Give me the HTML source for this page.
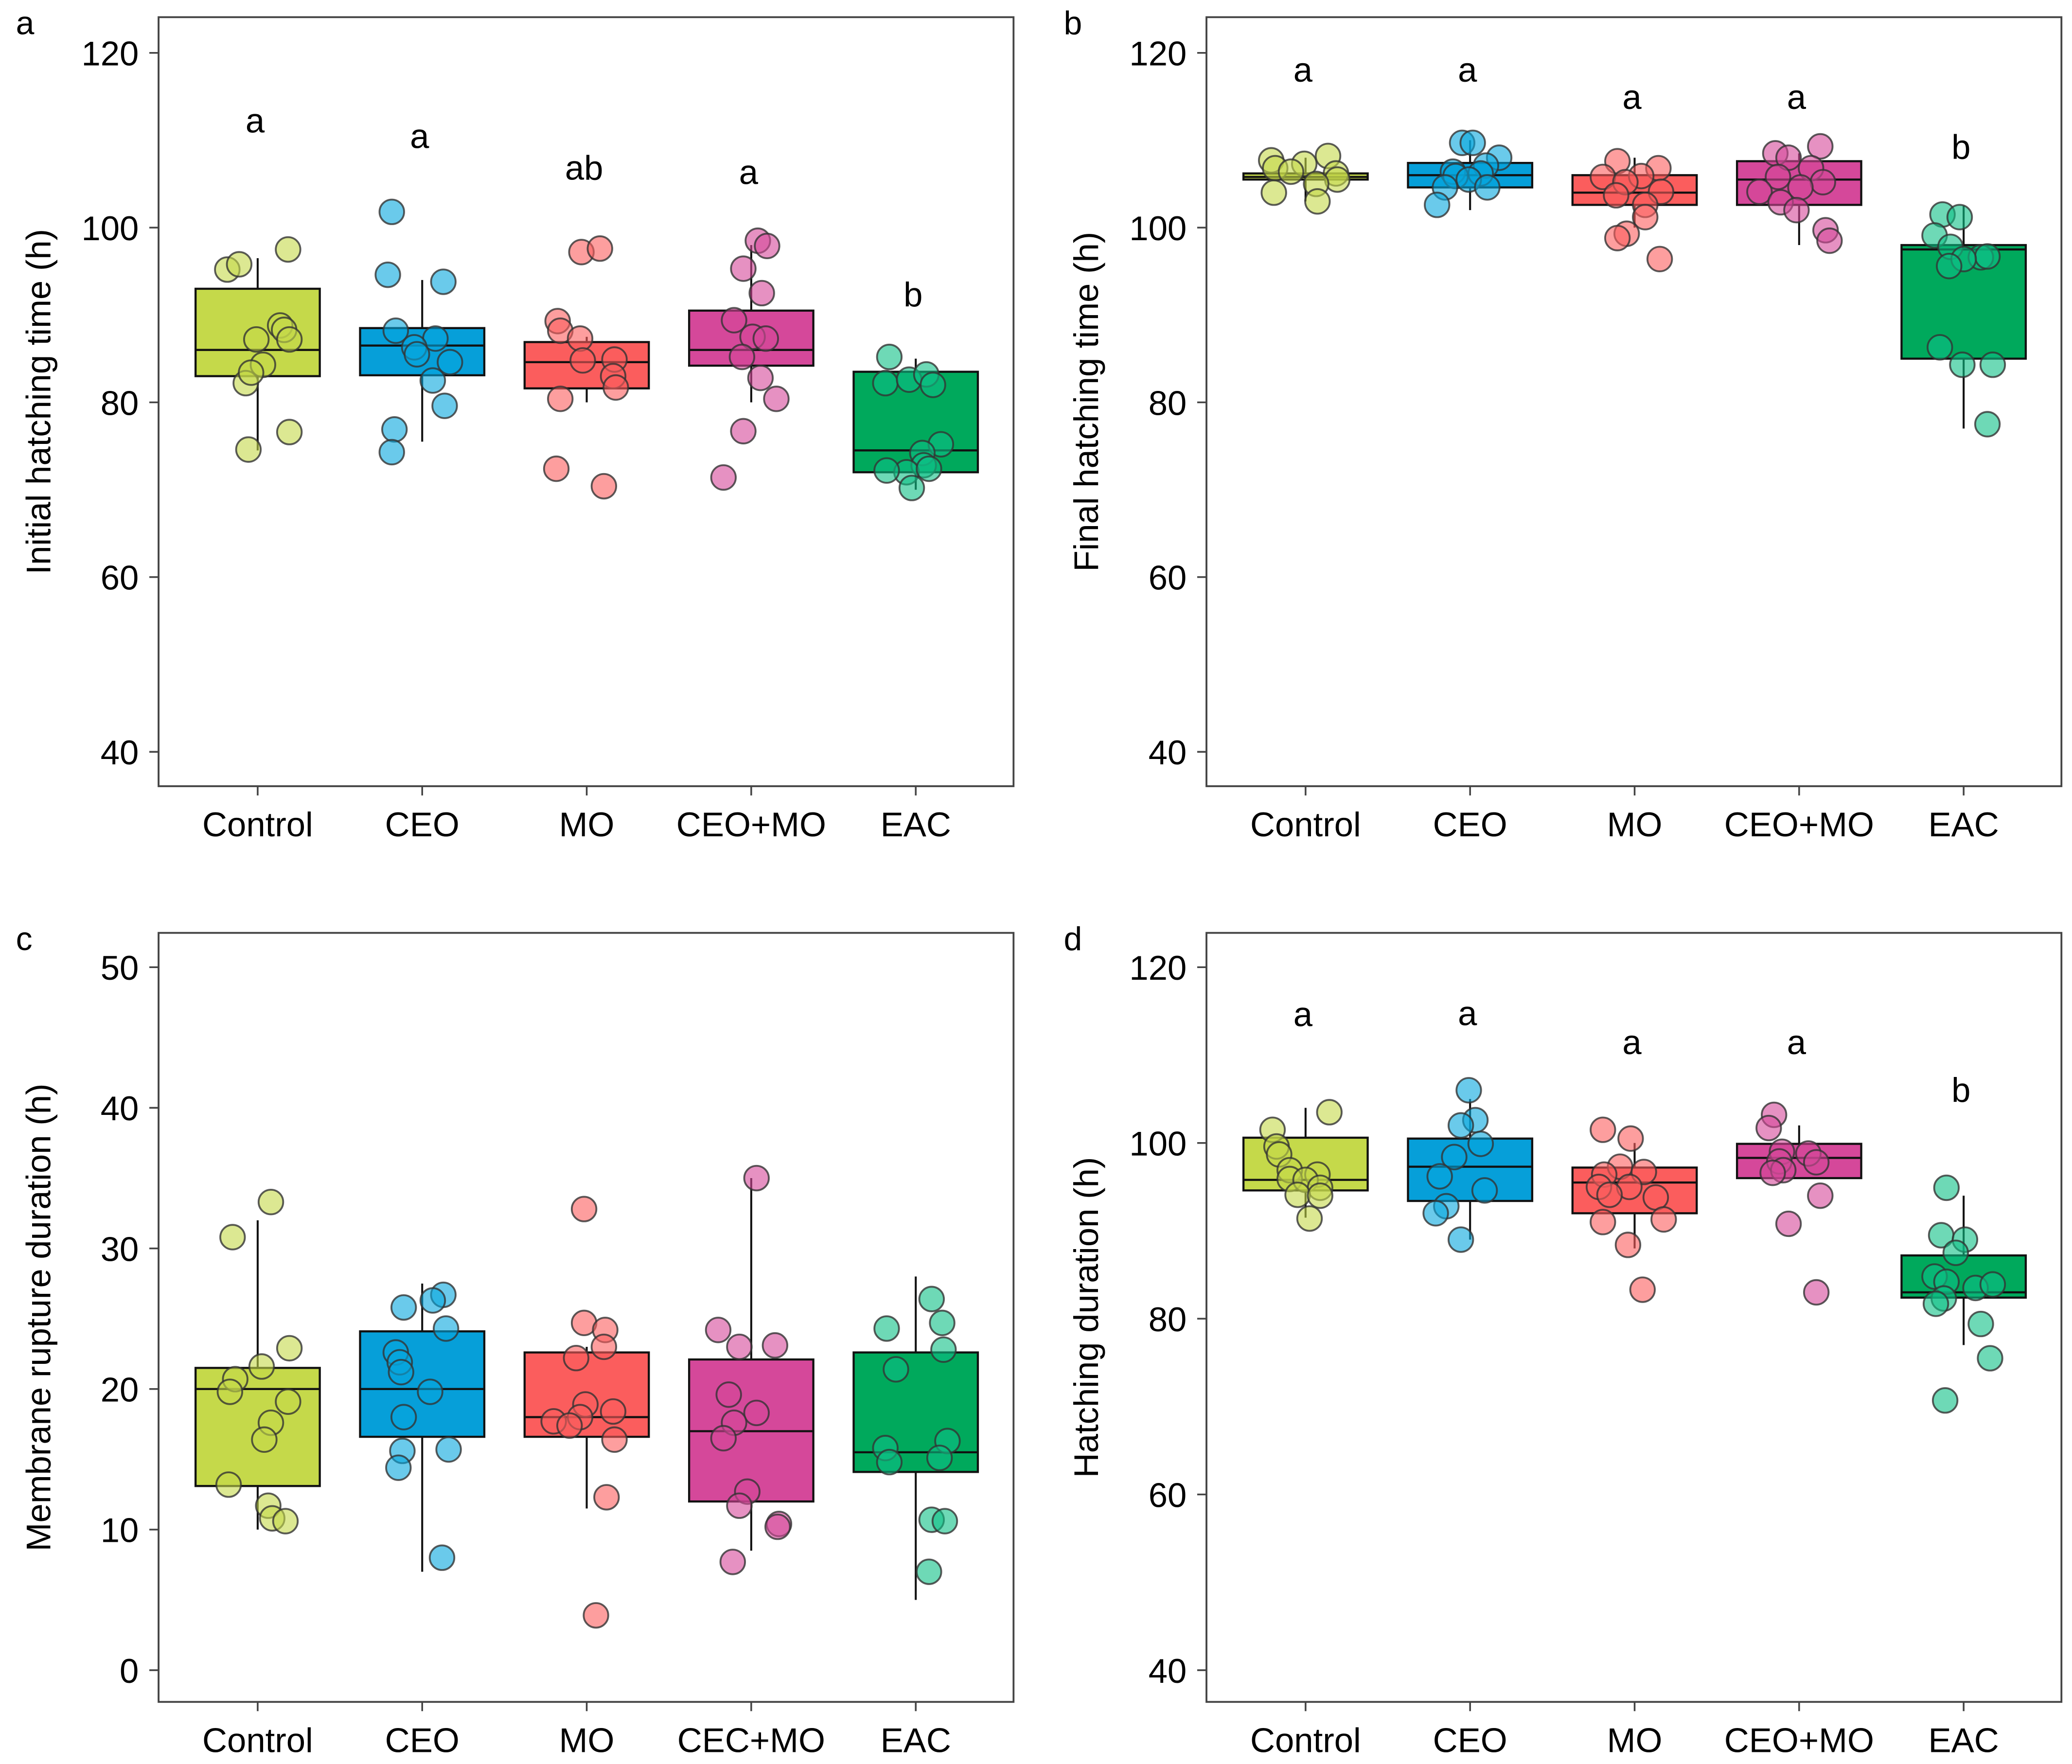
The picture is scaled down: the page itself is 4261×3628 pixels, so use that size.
<!DOCTYPE html>
<html><head><meta charset="utf-8">
<style>
html,body{margin:0;padding:0;background:#fff;}
svg{display:block;}
text{font-family:"Liberation Sans",Arial,sans-serif;fill:#000;}
</style></head>
<body>
<svg id="fig" xmlns="http://www.w3.org/2000/svg" width="4261" height="3628" viewBox="0 0 1568 1335" preserveAspectRatio="none"></svg>
<script>
// ---------- DATA ----------
const categoriesAB = ["Control","CEO","MO","CEO+MO","EAC"];
const categoriesC = ["Control","CEO","MO","CEC+MO","EAC"];
const colors = ["#c5d94a","#069fd9","#fb5d5d","#d5489a","#00a95c"];
const pointColors = ["#c5d94a","#06a6dd","#fb5d5d","#d5489a","#0dbf86"];
const ticksAB = [40,60,80,100,120];
const ticksC = [0,10,20,30,40,50];

// panel a: initial hatching time
const pointsA = [
 [95.2,95.8,97.5,88.8,88.3,87.2,87.2,84.3,82.2,83.4,76.6,74.6],
 [101.8,94.6,93.8,88.2,87.3,86.3,85.5,84.6,82.5,79.6,76.9,74.3],
 [97.2,97.6,89.3,88.2,87.3,84.8,84.9,83,81.7,80.4,72.4,70.4],
 [98.5,97.9,95.3,92.5,89.4,87.5,87.3,85.2,82.8,80.4,76.7,71.4],
 [85.2,82.2,82.6,83.2,82,75.2,74.2,72.8,72,72.4,70.2,72.2]];
const jitterA = [
 [-23,-14,23,17,20,24,-1,4,-9,-5,24,-7],
 [-23,-26,16,-20,10,-6,-4,21,8,17,-21,-23],
 [-4,10,-22,-20,-5,-3,21,20,22,-20,-23,13],
 [5,12,-6,8,-13,1,11,-7,7,19,-6,-21],
 [-20,-23,-5,8,13,19,5,6,-7,10,-3,-22]];
const boxA = [[74.5,83,86,93,96.5],[75.5,83.1,86.5,88.5,94],[80,81.6,84.6,86.9,87.5],[80,84.2,86,90.5,98],[70,72,74.5,83.5,85]];
const lettersA = ["a","a","ab","a","b"];
const letterPosA = [112.1,110.3,106.7,106.2,92.2];

// panel b: final hatching time
const pointsB = [
 [107.7,106.8,107.3,108.2,106.2,106.4,105.5,104,105,103],
 [109.7,109.7,108,107.1,106.4,106.2,105.9,105.5,104.6,104.6,102.6],
 [107.6,106.8,105.9,105.8,105.2,104.1,103.7,102.6,101.2,99.3,98.8,96.4],
 [109.3,108.5,108,106.8,105.8,105.2,104.6,104.1,102.9,102,99.7,98.5],
 [101.5,101.2,99.1,97.8,96.6,96.7,96.4,95.6,86.3,84.3,84.3,77.5]];
const jitterB = [
 [-26,-23,-1,17,23,-11,24,-24,8,9],
 [-6,2,22,12,-13,8,-11,-1,-19,13,-25],
 [-13,18,5,-24,-7,20,-14,8,8,-6,-13,19],
 [16,-18,-8,9,-16,18,1,-30,-14,-2,20,23],
 [-16,-3,-22,-10,13,18,0,-11,-18,-1,22,18]];
const boxB = [[103,105.5,105.8,106.2,108],[102,104.6,106,107.4,110],[100,102.6,104,106,108],[98,102.6,105.5,107.6,108.5],[77,85,97.5,98,102.5]];
const lettersB = ["a","a","a","a","b"];
const letterPosB = [117.9,117.9,114.8,114.8,109.1];

// panel c: membrane rupture duration
const pointsC = [
 [33.3,30.8,22.9,21.6,20.7,19.8,19.1,17.6,16.4,13.2,11.7,10.8,10.6],
 [26.7,26.3,25.8,24.3,22.6,21.9,21.2,19.8,18,15.7,15.6,14.4,8],
 [32.8,24.7,24.2,23,22.2,18.9,18.4,18,17.7,17.4,16.4,12.3,3.9],
 [35,24.2,23,23.1,19.6,18.3,17.6,16.5,12.7,11.7,10.4,10.2,7.7],
 [26.4,24.3,24.7,22.8,21.4,16.3,15.8,14.8,15.1,10.7,10.6,7]];
const jitterC = [
 [10,-19,24,3,-17,-21,23,10,5,-22,8,11,21],
 [16,8,-14,18,-20,-17,-16,6,-14,20,-15,-18,15],
 [-2,-2,14,13,-8,-1,20,-5,-25,-13,21,15,7],
 [4,-25,-9,18,-17,4,-13,-21,-3,-9,21,20,-14],
 [12,-22,20,21,-15,24,-23,-20,18,12,22,10]];
const boxC = [[10,13.1,20,21.5,32],[7,16.6,20,24.1,27.5],[11.5,16.6,18,22.6,23],[8.5,12,17,22.1,35],[5,14.1,15.5,22.6,28]];

// panel d: hatching duration
const pointsD = [
 [103.5,101.5,99.6,98.7,96.9,96.4,95.9,95.8,94.9,94.1,94,91.4],
 [106,102.6,102,99.9,98.4,96.2,94.6,92.8,92,89],
 [101.5,100.5,97.3,96.4,96.7,95,95,94.1,93.8,91,91.3,88.4,83.3],
 [103.2,101.7,99,98.8,97.9,97.8,96.9,96.6,94,90.8,83],
 [94.9,89.5,89,87.5,84.8,84.2,83.5,83.9,82.3,81.7,79.4,75.5,70.7]];
const jitterD = [
 [18,-25,-22,-20,-12,9,-12,0,11,-6,11,3],
 [-1,4,-7,8,-12,-23,11,-18,-26,-7],
 [-24,-3,-11,-23,7,-27,-4,-19,16,-24,22,-5,6],
 [-19,-23,-13,7,-15,13,-12,-20,16,-8,13],
 [-13,-17,1,-6,-22,-13,9,22,-15,-21,13,20,-14]];
const boxD = [[91.5,94.6,95.8,100.6,104],[89,93.4,97.3,100.5,105],[88,92,95.5,97.2,100],[96,96,98.3,99.9,102],[77,82.4,83,87.2,94]];
const lettersD = ["a","a","a","a","b"];
const letterPosD = [114.5,114.6,111.3,111.3,105.9];

// ---------- DRAWING ----------
const NS = "http://www.w3.org/2000/svg";
const svg = document.getElementById("fig");
function mk(tag, attrs, parent, txt){
  const e = document.createElementNS(NS, tag);
  for (const k in attrs) e.setAttribute(k, attrs[k]);
  if (txt !== undefined) e.textContent = txt;
  (parent || svg).appendChild(e);
  return e;
}

function panel(cfg){
  const g = mk("g", {});
  
  
  const L = cfg.x0, R = cfg.x0 + 647, T = cfg.y0, B = cfg.y0 + 582;
  const yScale = v => cfg.yBot - (v - cfg.vmin) / (cfg.vmax - cfg.vmin) * (cfg.yBot - cfg.yTop);
  const xScale = i => L + 75 + i * 124.5;

  const lbl = mk("text", {x: cfg.x0 - 108, y: T + 13, "font-size": 25}, g, cfg.id);
  
  

  cfg.ticks.forEach(t => {
    const y = yScale(t);
    const tk = mk("line", {x1: L - 7, x2: L, y1: y, y2: y, stroke: "#444", "stroke-width": 1.3}, g);
    
    
    const tl = mk("text", {x: L - 15, y: y + 9.5, "font-size": 26, "text-anchor": "end"}, g, String(t));
    
    
  });
  const cy = (T + B) / 2;
  const yt = mk("text", {x: 0, y: 0, "font-size": 26, "text-anchor": "middle", transform: `translate(${cfg.x0 - 82},${cy}) rotate(-90)`}, g, cfg.title);
  
  

  cfg.cats.forEach((c, i) => {
    const x = xScale(i);
    const tk = mk("line", {x1: x, x2: x, y1: B, y2: B + 7, stroke: "#444", "stroke-width": 1.3}, g);
    
    
    const tl = mk("text", {x: x, y: B + 38, "font-size": 26, "text-anchor": "middle"}, g, c);
    
    

    const s = cfg.box[i];
    const grp = mk("g", {}, g);
    
    
    const wh = mk("line", {x1: x, x2: x, y1: yScale(s[0]), y2: yScale(s[4]), stroke: "#111", "stroke-width": 1.5}, grp);
    
    
    const bx = mk("rect", {x: x - 47, width: 94, y: yScale(s[3]), height: yScale(s[1]) - yScale(s[3]), fill: colors[i], stroke: "#111", "stroke-width": 1.6}, grp);
    
    
    const md = mk("line", {x1: x - 47, x2: x + 47, y1: yScale(s[2]), y2: yScale(s[2]), stroke: "#111", "stroke-width": 1.6}, grp);
    
    

    cfg.points[i].forEach((v, j) => {
      const p = mk("circle", {cx: x + cfg.jitter[i][j], cy: yScale(v), r: 9.3, fill: pointColors[i], "fill-opacity": 0.6, stroke: "#333", "stroke-opacity": 0.8, "stroke-width": 1.4}, grp);
      
      
    });

    if (cfg.letters){
      const lt = mk("text", {x: x - 2, y: yScale(cfg.letterPos[i]) + 8, "font-size": 26, "text-anchor": "middle"}, g, cfg.letters[i]);
      
      
    }
  });

  const fr = mk("rect", {x: L, y: T, width: R - L, height: B - T, fill: "none", stroke: "#444", "stroke-width": 1.4}, g);
  
  
}

panel({id:"a", x0:120, y0:13, yTop:40, yBot:569, vmin:40, vmax:120, ticks:ticksAB, cats:categoriesAB,
  title:"Initial hatching time (h)", points:pointsA, jitter:jitterA, box:boxA, letters:lettersA, letterPos:letterPosA});
panel({id:"b", x0:913, y0:13, yTop:40, yBot:569, vmin:40, vmax:120, ticks:ticksAB, cats:categoriesAB,
  title:"Final hatching time (h)", points:pointsB, jitter:jitterB, box:boxB, letters:lettersB, letterPos:letterPosB});
panel({id:"c", x0:120, y0:706, yTop:732, yBot:1264, vmin:0, vmax:50, ticks:ticksC, cats:categoriesC,
  title:"Membrane rupture duration (h)", points:pointsC, jitter:jitterC, box:boxC});
panel({id:"d", x0:913, y0:706, yTop:732, yBot:1264, vmin:40, vmax:120, ticks:ticksAB, cats:categoriesAB,
  title:"Hatching duration (h)", points:pointsD, jitter:jitterD, box:boxD, letters:lettersD, letterPos:letterPosD});
</script>
</body></html>
